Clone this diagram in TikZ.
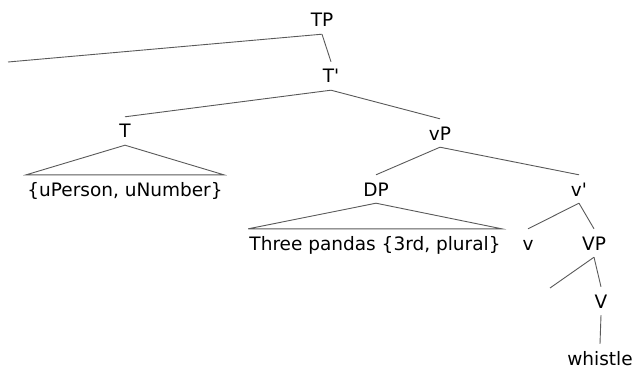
\documentclass[tikz,border=0pt]{standalone}
\usepackage{fontspec}
\setmainfont{DejaVu Sans}
\begin{document}
\begin{tikzpicture}[x=1pt,y=-1pt,
  lab/.style={anchor=base, inner xsep=1pt, inner ysep=7pt, text height=14pt, text depth=0pt, font=\fontsize{18.5}{22}\selectfont},
  br/.style={draw=black!65, line width=0.9pt}]
\useasboundingbox (0,0) rectangle (638,369);
\node[lab] (TP) at (322,27) {TP};
\node[lab] (Tb) at (331,83) {T\textquotesingle};
\node[lab] (T) at (125,138) {T};
\node[lab] (vP) at (440,140) {vP};
\node[lab] (Tf) at (125,196) {\{uPerson, uNumber\}};
\node[lab] (DP) at (376,196) {DP};
\node[lab] (vb) at (579,196) {v\textquotesingle};
\node[lab] (DPf) at (375,250) {Three pandas \{3rd, plural\}};
\node[lab] (v) at (528,250) {v};
\node[lab] (VP) at (594,250) {VP};
\node[lab] (V) at (601,308) {V};
\node[lab] (wh) at (600,365) {whistle};
\coordinate (spec) at (8,62);
\coordinate (comp) at (550,288);
\draw[br] (TP.south) -- (spec);
\draw[br] (TP.south) -- (Tb.north);
\draw[br] (Tb.south) -- (T.north);
\draw[br] (Tb.south) -- (vP.north);
\draw[br] (T.south) -- (Tf.north west) -- (Tf.north east) -- cycle;
\draw[br] (vP.south) -- (DP.north);
\draw[br] (vP.south) -- (vb.north);
\draw[br] (DP.south) -- (DPf.north west) -- (DPf.north east) -- cycle;
\draw[br] (vb.south) -- (v.north);
\draw[br] (vb.south) -- (VP.north);
\draw[br] (VP.south) -- (comp);
\draw[br] (VP.south) -- (V.north);
\draw[br] (V.south) -- (wh.north);
\end{tikzpicture}
\end{document}
